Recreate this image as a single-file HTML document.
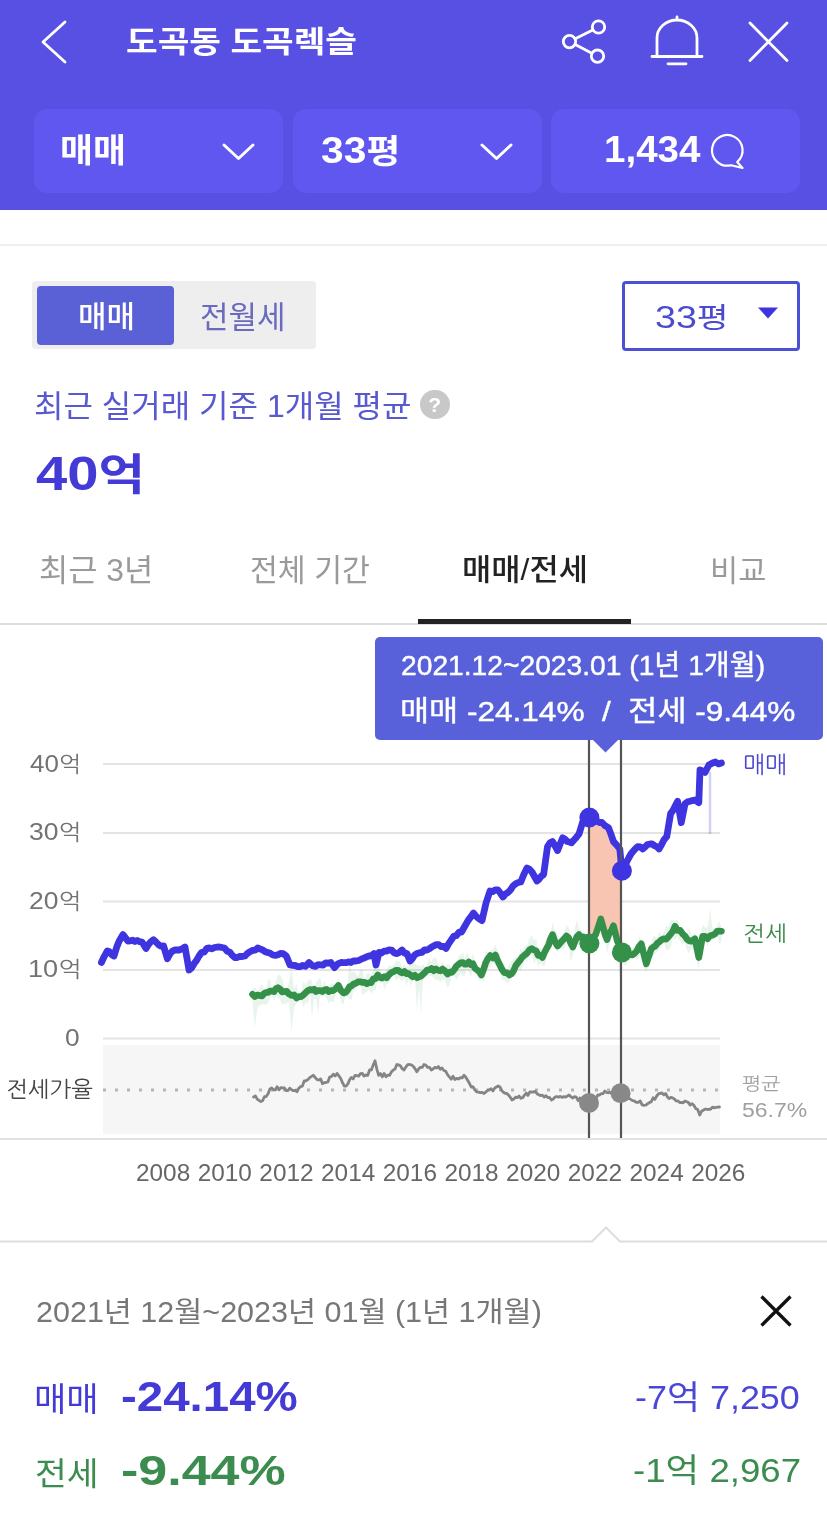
<!DOCTYPE html>
<html lang="ko">
<head>
<meta charset="utf-8">
<title>도곡동 도곡렉슬</title>
<style>
*{margin:0;padding:0;box-sizing:border-box}
html,body{width:827px;height:1521px;overflow:hidden;background:#fff}
body{position:relative;font-family:"Liberation Sans","Noto Sans CJK KR",sans-serif;color:#222}
#wrap{position:absolute;left:0;top:0;width:827px;height:1521px;filter:blur(0.6px)}
.abs{position:absolute}
.t{position:absolute;white-space:nowrap;line-height:1;transform-origin:0 0}
.hdr{left:-10px;top:-10px;width:847px;height:220px;background:#584fe3}
.btn{top:109px;height:84px;width:249px;border-radius:13px;background:#6056f0}
.w{color:#fff}
.cl{font-family:"Liberation Sans","NanumGothic","Noto Sans CJK KR",sans-serif}
</style>
</head>
<body>
<div id="wrap">
<div class="abs hdr"></div>
<div class="abs btn" style="left:34px"></div>
<div class="abs btn" style="left:293px"></div>
<div class="abs btn" style="left:551px"></div>


<!-- header icons -->
<svg class="abs" style="left:0;top:0" width="827" height="210" viewBox="0 0 827 210" fill="none" stroke="#fff" stroke-width="2.8" stroke-linecap="round" stroke-linejoin="round">
<path d="M65,22 L43,42 L65,62"/>
<circle cx="569.5" cy="41.6" r="6.2"/><circle cx="598.5" cy="27" r="6.2"/><circle cx="597.5" cy="56.2" r="6.2"/>
<path d="M575.2,38.8 L592.8,29.9 M575.2,44.5 L591.8,53.3"/>
<path d="M657,56 V38 a20,18 0 0 1 40,0 V56 M652,56.5 H702 M668,63.8 H686 M677,20 V17"/>
<path d="M750,23 L787,60.5 M787,23 L750,60.5"/>
<path d="M224,145 L238.5,158.5 L253,145" stroke-width="3"/>
<path d="M482,145 L496.5,158.5 L511,145" stroke-width="3"/>
<path d="M737.2,162 A15.3,15.3 0 1 0 731,165.2 L742.5,168 Z" stroke-width="2.2"/>
</svg>

<div class="abs" style="left:-10px;top:244px;width:847px;height:2px;background:#f0f0f0"></div>

<!-- toggle -->
<div class="abs" style="left:32px;top:281px;width:284px;height:68px;background:#eee;border-radius:4px"></div>
<div class="abs" style="left:37px;top:286px;width:137px;height:59px;background:#5a60d6;border-radius:4px"></div>

<!-- select -->
<div class="abs" style="left:622px;top:281px;width:178px;height:70px;border:3px solid #4b50d7;border-radius:4px"></div>
<svg class="abs" style="left:757px;top:307px" width="22" height="12" viewBox="0 0 22 12"><path d="M1,0.5 H21 L11,11.5Z" fill="#3d33e0"/></svg>

<div class="abs" style="left:420px;top:389.5px;width:29.5px;height:29.5px;border-radius:50%;background:#c8c8c8;color:#fff;font-size:21px;font-weight:700;text-align:center;line-height:30px">?</div>

<!-- tabs -->
<div class="abs" style="left:-10px;top:623px;width:847px;height:2px;background:#ddd"></div>
<div class="abs" style="left:418px;top:619px;width:213px;height:5px;background:#222"></div>

<!-- tooltip -->
<div class="abs" style="left:375px;top:637px;width:448px;height:103px;background:#5860da;border-radius:5px"></div>

<svg class="abs" style="left:0;top:0" width="827" height="1521" viewBox="0 0 827 1521">
<g stroke="#e4e4e4" stroke-width="2">
<line x1="103" x2="720" y1="764" y2="764"/><line x1="103" x2="720" y1="833" y2="833"/><line x1="103" x2="720" y1="901.5" y2="901.5"/><line x1="103" x2="720" y1="970" y2="970"/><line x1="103" x2="720" y1="1038.5" y2="1038.5"/>
</g>
<rect x="103" y="1045" width="617" height="89" fill="#f6f6f6"/>
<line x1="103" x2="726" y1="1090" y2="1090" stroke="#b5b5b5" stroke-width="3" stroke-dasharray="3 9"/>
<path d="M252.5,989.4 L254.9,987.1 L257.2,990.2 L259.6,987.8 L262.0,983.6 L264.0,990.7 L266.0,990.1 L268.0,979.9 L270.0,979.5 L272.0,987.8 L274.0,984.5 L276.0,982.1 L278.0,974.8 L280.0,975.1 L282.2,978.4 L284.5,987.1 L286.8,988.6 L289.0,982.4 L291.5,967.7 L294.0,988.9 L296.5,984.0 L298.8,994.2 L301.1,992.9 L303.4,981.4 L305.7,984.5 L308.0,981.1 L310.0,978.9 L312.0,981.7 L314.0,987.0 L316.0,982.0 L318.0,980.0 L320.1,977.1 L322.3,985.7 L324.4,980.7 L326.5,987.1 L328.7,987.0 L330.8,983.3 L333.3,984.6 L335.9,984.4 L338.4,978.0 L340.9,986.1 L343.5,987.7 L345.5,986.3 L347.5,985.1 L349.6,960.3 L351.6,973.3 L353.6,970.9 L355.8,973.3 L358.0,977.1 L360.2,970.0 L362.4,969.4 L364.6,980.1 L366.8,973.7 L369.0,973.5 L371.2,974.9 L373.4,970.3 L375.6,950.0 L377.8,962.6 L380.0,969.2 L382.2,976.1 L384.5,973.8 L386.7,969.8 L389.1,964.8 L391.6,966.6 L394.0,964.8 L396.1,961.0 L398.2,960.8 L400.2,961.4 L402.3,968.0 L404.4,964.3 L406.5,967.3 L408.6,965.9 L410.7,962.5 L412.8,958.3 L414.9,963.9 L417.0,965.2 L419.0,964.7 L421.0,967.3 L423.0,963.6 L425.0,969.8 L427.0,965.1 L429.2,958.7 L431.4,962.3 L433.6,957.0 L435.9,958.5 L438.1,962.6 L440.3,967.8 L442.5,961.7 L445.1,966.7 L447.6,963.7 L449.8,965.0 L451.9,967.8 L454.1,965.9 L456.3,962.5 L458.5,956.8 L460.6,955.0 L462.8,951.7 L464.8,959.5 L466.9,951.9 L468.9,957.7 L471.0,959.7 L473.0,953.1 L475.1,962.9 L477.2,967.9 L479.3,967.1 L481.4,966.5 L483.5,966.4 L485.7,949.4 L487.8,953.2 L490.3,950.4 L492.9,949.6 L495.4,944.4 L497.5,950.5 L499.6,954.6 L501.7,963.0 L504.3,962.9 L506.8,969.9 L509.4,964.1 L511.6,961.1 L513.7,959.3 L515.9,956.8 L518.1,959.3 L520.3,948.6 L522.4,949.9 L524.6,945.9 L527.1,944.9 L529.5,938.4 L532.0,935.2 L534.1,940.5 L536.2,938.4 L538.2,953.5 L540.3,946.9 L542.4,955.1 L544.4,944.0 L546.4,937.1 L548.5,940.5 L550.5,933.0 L552.5,922.3 L555.0,931.0 L557.6,933.7 L559.8,940.2 L562.0,937.2 L564.3,931.5 L566.5,924.9 L568.6,927.2 L570.7,933.9 L572.8,943.3 L574.9,928.3 L576.9,919.5 L579.0,927.7 L581.1,930.8 L583.2,933.8 L585.2,933.7 L587.3,937.3 L589.4,937.9 L591.5,931.2 L593.6,923.3 L595.7,930.6 L598.2,914.1 L600.8,895.7 L602.9,916.8 L604.9,921.7 L607.0,929.5 L609.2,922.7 L611.3,924.2 L613.5,917.9 L617.3,931.7 L619.6,941.9 L621.9,942.3 L624.0,942.4 L626.1,941.7 L628.3,951.1 L630.4,945.9 L632.5,950.1 L634.7,944.2 L636.9,946.3 L639.1,937.1 L641.3,939.7 L643.8,951.9 L646.3,960.8 L648.8,946.9 L651.3,942.6 L653.3,935.1 L655.3,937.5 L657.3,937.2 L659.3,931.1 L661.3,935.4 L663.8,931.5 L666.3,926.0 L668.8,927.0 L670.9,920.3 L672.9,919.8 L675.0,920.8 L677.5,919.8 L680.1,927.9 L682.6,927.7 L684.8,932.7 L687.0,935.4 L689.1,927.0 L691.3,935.6 L695.0,932.5 L698.8,945.0 L702.6,924.6 L705.1,927.7 L707.6,927.6 L710.1,908.8 L712.5,929.2 L715.0,928.1 L717.1,926.2 L719.3,921.0 L721.4,927.7 L721.4,942.4 L719.3,944.1 L717.1,933.9 L715.0,938.8 L712.5,937.9 L710.1,938.1 L707.6,946.4 L705.1,940.2 L702.6,938.4 L698.8,969.3 L695.0,951.0 L691.3,948.9 L689.1,953.2 L687.0,950.4 L684.8,941.5 L682.6,944.7 L680.1,941.3 L677.5,936.0 L675.0,939.5 L672.9,937.9 L670.9,946.6 L668.8,949.5 L666.3,949.9 L663.8,941.7 L661.3,946.2 L659.3,949.0 L657.3,951.2 L655.3,953.6 L653.3,956.2 L651.3,958.0 L648.8,966.0 L646.3,971.4 L643.8,967.8 L641.3,946.7 L639.1,957.8 L636.9,959.7 L634.7,955.3 L632.5,957.6 L630.4,958.0 L628.3,960.8 L626.1,965.3 L624.0,964.6 L621.9,955.6 L619.6,976.5 L617.3,951.5 L613.5,930.9 L611.3,937.6 L609.2,945.6 L607.0,952.8 L604.9,937.3 L602.9,939.5 L600.8,932.0 L598.2,931.3 L595.7,937.0 L593.6,956.7 L591.5,946.9 L589.4,948.5 L587.3,954.0 L585.2,943.3 L583.2,944.6 L581.1,939.8 L579.0,945.0 L576.9,944.7 L574.9,948.5 L572.8,954.5 L570.7,962.4 L568.6,944.2 L566.5,942.8 L564.3,948.4 L562.0,949.1 L559.8,946.0 L557.6,953.2 L555.0,948.0 L552.5,943.8 L550.5,951.3 L548.5,948.2 L546.4,958.1 L544.4,966.3 L542.4,965.5 L540.3,962.7 L538.2,966.7 L536.2,958.6 L534.1,963.8 L532.0,955.2 L529.5,952.2 L527.1,962.0 L524.6,958.8 L522.4,967.8 L520.3,970.7 L518.1,967.9 L515.9,976.6 L513.7,976.8 L511.6,976.1 L509.4,981.3 L506.8,983.3 L504.3,980.1 L501.7,979.6 L499.6,967.9 L497.5,969.8 L495.4,965.1 L492.9,961.4 L490.3,966.7 L487.8,968.8 L485.7,969.2 L483.5,982.4 L481.4,978.4 L479.3,980.7 L477.2,976.0 L475.1,974.7 L473.0,966.8 L471.0,977.2 L468.9,972.4 L466.9,969.1 L464.8,974.9 L462.8,976.0 L460.6,973.5 L458.5,976.4 L456.3,980.1 L454.1,976.3 L451.9,974.7 L449.8,984.2 L447.6,987.4 L445.1,980.1 L442.5,979.6 L440.3,981.9 L438.1,980.1 L435.9,979.9 L433.6,977.6 L431.4,975.5 L429.2,976.5 L427.0,974.2 L425.0,978.4 L423.0,977.5 L421.0,1014.7 L419.0,986.9 L417.0,1010.5 L414.9,977.7 L412.8,980.0 L410.7,986.7 L408.6,976.9 L406.5,986.5 L404.4,978.5 L402.3,981.4 L400.2,978.9 L398.2,977.5 L396.1,981.6 L394.0,974.4 L391.6,976.0 L389.1,983.6 L386.7,983.6 L384.5,990.3 L382.2,980.8 L380.0,984.6 L377.8,977.6 L375.6,990.3 L373.4,990.5 L371.2,994.0 L369.0,988.9 L366.8,992.0 L364.6,993.2 L362.4,995.2 L360.2,984.2 L358.0,984.7 L355.8,991.5 L353.6,988.7 L351.6,999.7 L349.6,999.6 L347.5,996.5 L345.5,996.0 L343.5,1004.7 L340.9,1002.0 L338.4,990.1 L335.9,994.5 L333.3,1002.6 L330.8,1000.9 L328.7,1003.3 L326.5,998.3 L324.4,995.5 L322.3,997.9 L320.1,995.6 L318.0,1012.7 L316.0,999.1 L314.0,998.6 L312.0,1017.7 L310.0,994.4 L308.0,1003.8 L305.7,1002.5 L303.4,1007.6 L301.1,999.3 L298.8,1001.0 L296.5,1003.7 L294.0,1007.4 L291.5,1031.5 L289.0,1000.9 L286.8,1003.7 L284.5,1003.6 L282.2,1004.8 L280.0,999.1 L278.0,997.9 L276.0,994.9 L274.0,1001.3 L272.0,994.6 L270.0,998.4 L268.0,1003.0 L266.0,1004.9 L264.0,1004.5 L262.0,1004.3 L259.6,1005.2 L257.2,1009.0 L254.9,1027.8 L252.5,1002.8Z" fill="#3a9a50" opacity="0.11"/>
<path d="M710,772 L710,834" stroke="#4a40e0" stroke-width="2.5" opacity="0.25"/>
<path d="M589.0,817.7 L589.4,817.5 L591.9,817.3 L594.4,820.5 L597.0,821.2 L599.5,822.5 L602.0,822.5 L605.2,825.8 L608.4,827.6 L611.0,834.3 L613.5,841.6 L616.6,845.0 L619.8,849.0 L621.0,861.5 L621.0,950.2 L619.6,945.7 L617.3,941.0 L613.5,925.7 L611.3,930.6 L609.2,933.5 L607.0,939.7 L604.9,933.9 L602.9,926.1 L600.8,919.0 L598.2,926.9 L595.7,934.6 L593.6,936.9 L591.5,940.7 L589.4,943.5 L589.0,943.2Z" fill="#f9c5b3"/>
<path d="M252.5,994.3 L254.9,996.6 L257.2,995.0 L259.6,995.5 L262.0,996.0 L264.0,993.4 L266.0,992.5 L268.0,992.4 L270.0,991.1 L272.0,991.0 L274.0,991.7 L276.0,988.7 L278.0,987.7 L280.0,989.0 L282.2,992.0 L284.5,991.6 L286.8,991.4 L289.0,994.0 L291.5,995.5 L294.0,994.9 L296.5,998.0 L298.8,996.6 L301.1,996.8 L303.4,994.9 L305.7,992.7 L308.0,990.5 L310.0,989.6 L312.0,990.0 L314.0,989.2 L316.0,991.5 L318.0,990.5 L320.1,990.6 L322.3,991.6 L324.4,989.9 L326.5,989.4 L328.7,991.7 L330.8,990.5 L333.3,990.6 L335.9,988.4 L338.4,985.4 L340.9,990.4 L343.5,993.0 L345.5,992.4 L347.5,990.3 L349.6,986.6 L351.6,985.9 L353.6,984.0 L355.8,983.3 L358.0,981.9 L360.2,981.7 L362.4,982.5 L364.6,982.2 L366.8,983.7 L369.0,982.8 L371.2,982.6 L373.4,978.7 L375.6,978.6 L377.8,975.0 L380.0,977.6 L382.2,978.1 L384.5,976.6 L386.7,977.8 L389.1,974.6 L391.6,972.5 L394.0,971.4 L396.1,970.2 L398.2,970.3 L400.2,971.9 L402.3,972.9 L404.4,971.4 L406.5,973.8 L408.6,973.5 L410.7,975.2 L412.8,976.8 L414.9,975.2 L417.0,977.8 L419.0,976.9 L421.0,976.2 L423.0,974.2 L425.0,972.5 L427.0,970.0 L429.2,969.8 L431.4,968.5 L433.6,970.7 L435.9,968.8 L438.1,970.4 L440.3,970.9 L442.5,969.0 L445.1,971.1 L447.6,974.0 L449.8,972.0 L451.9,972.4 L454.1,969.9 L456.3,966.2 L458.5,964.4 L460.6,962.8 L462.8,962.5 L464.8,964.3 L466.9,964.2 L468.9,961.9 L471.0,964.8 L473.0,963.8 L475.1,968.4 L477.2,970.0 L479.3,971.6 L481.4,975.0 L483.5,969.8 L485.7,962.7 L487.8,958.7 L490.3,955.6 L492.9,958.0 L495.4,955.0 L497.5,960.2 L499.6,964.4 L501.7,969.0 L504.3,972.6 L506.8,972.7 L509.4,975.0 L511.6,973.6 L513.7,970.5 L515.9,965.3 L518.1,962.6 L520.3,959.9 L522.4,956.9 L524.6,955.0 L527.1,953.2 L529.5,949.8 L532.0,948.6 L534.1,950.1 L536.2,950.8 L538.2,955.5 L540.3,955.2 L542.4,957.5 L544.4,952.8 L546.4,948.7 L548.5,945.3 L550.5,938.9 L552.5,934.6 L555.0,941.9 L557.6,946.0 L559.8,943.5 L562.0,941.1 L564.3,938.6 L566.5,936.0 L568.6,937.8 L570.7,943.1 L572.8,947.0 L574.9,941.7 L576.9,936.8 L579.0,934.6 L581.1,937.5 L583.2,936.9 L585.2,939.8 L587.3,942.6 L589.4,943.5 L591.5,940.7 L593.6,936.9 L595.7,934.6 L598.2,926.9 L600.8,919.0 L602.9,926.1 L604.9,933.9 L607.0,939.7 L609.2,933.5 L611.3,930.6 L613.5,925.7 L617.3,941.0 L619.6,945.7 L621.9,952.4 L624.0,952.1 L626.1,954.5 L628.3,954.0 L630.4,954.7 L632.5,955.0 L634.7,953.2 L636.9,951.0 L639.1,946.4 L641.3,943.8 L643.8,954.2 L646.3,963.8 L648.8,956.3 L651.3,948.8 L653.3,947.1 L655.3,946.0 L657.3,943.3 L659.3,941.9 L661.3,940.0 L663.8,938.7 L666.3,939.2 L668.8,936.3 L670.9,933.7 L672.9,931.1 L675.0,926.3 L677.5,930.5 L680.1,930.4 L682.6,933.8 L684.8,935.9 L687.0,939.2 L689.1,940.7 L691.3,941.3 L695.0,938.8 L698.8,957.6 L702.6,936.3 L705.1,936.2 L707.6,938.8 L710.1,935.7 L712.5,935.2 L715.0,933.8 L717.1,931.3 L719.3,931.1 L721.4,931.3" fill="none" stroke="#35914a" stroke-width="6.6" stroke-linejoin="round" stroke-linecap="round"/>
<path d="M101.4,962.5 L104.3,956.3 L107.3,951.0 L109.5,951.8 L111.8,954.7 L114.0,956.0 L116.6,947.4 L119.2,941.0 L123.0,934.6 L125.5,937.9 L128.0,941.0 L130.3,940.8 L132.7,940.2 L135.0,941.5 L137.3,940.5 L139.7,941.7 L142.0,942.0 L146.0,948.5 L148.5,944.4 L151.0,941.6 L153.5,939.7 L156.0,942.0 L158.5,944.7 L161.1,946.2 L163.6,946.0 L167.4,958.7 L169.9,953.9 L172.5,951.0 L175.8,949.8 L179.0,950.0 L182.0,948.8 L185.0,947.0 L189.0,970.0 L191.5,968.1 L194.0,963.8 L196.6,960.2 L199.1,955.9 L201.7,952.4 L204.2,952.2 L206.8,948.3 L209.3,948.0 L211.9,948.9 L214.4,947.5 L216.9,947.1 L219.5,947.0 L222.1,947.5 L224.6,948.0 L227.1,951.2 L229.6,951.9 L232.2,955.3 L234.7,957.5 L237.3,957.5 L239.8,956.4 L242.4,956.5 L245.0,956.0 L247.5,953.3 L250.0,951.7 L252.6,950.4 L255.1,950.1 L257.6,948.0 L260.1,949.0 L262.7,949.9 L265.2,951.7 L267.7,952.5 L270.3,953.3 L272.8,955.0 L275.4,955.4 L277.9,954.8 L280.4,953.3 L283.0,953.6 L286.3,956.0 L290.0,965.0 L292.6,965.4 L295.1,965.5 L297.7,966.6 L300.3,966.5 L302.8,965.5 L305.4,966.3 L309.0,962.5 L312.2,965.6 L315.5,966.3 L318.1,964.7 L320.6,964.8 L323.1,965.1 L325.7,962.9 L328.2,963.1 L330.8,962.5 L334.6,967.6 L337.8,963.9 L341.0,962.5 L343.5,962.7 L346.0,962.7 L348.5,961.9 L351.0,962.5 L353.5,960.8 L356.0,961.0 L358.6,960.5 L361.2,959.2 L363.8,958.2 L366.4,956.9 L369.0,956.0 L371.5,955.7 L374.0,953.6 L376.0,965.0 L379.0,952.4 L381.5,953.0 L384.0,951.1 L386.5,951.0 L389.0,950.0 L391.7,950.1 L394.3,952.9 L397.0,953.6 L399.5,952.2 L402.0,950.0 L404.5,953.1 L407.0,953.6 L410.0,961.0 L412.3,958.8 L414.6,955.0 L417.1,953.4 L419.6,952.7 L422.0,952.4 L424.5,949.8 L427.0,950.0 L429.3,948.8 L431.7,947.0 L434.0,945.8 L436.4,944.6 L438.7,944.7 L441.1,946.7 L443.6,946.3 L446.0,948.5 L448.7,943.7 L451.3,939.9 L454.0,936.0 L456.5,935.6 L459.0,932.2 L461.5,932.0 L464.8,926.2 L468.0,920.6 L470.8,916.9 L473.5,913.0 L476.3,916.5 L479.2,918.9 L482.0,920.6 L486.0,903.0 L490.0,891.0 L492.7,891.6 L495.3,889.8 L498.0,890.0 L500.5,893.3 L503.0,897.0 L505.5,893.9 L508.0,892.5 L510.5,889.9 L513.0,886.0 L515.6,883.8 L518.2,882.5 L520.8,882.0 L523.9,874.3 L527.0,868.0 L529.5,869.3 L532.0,872.0 L534.5,876.5 L537.0,881.0 L539.2,879.1 L541.4,876.1 L543.6,874.6 L547.5,846.6 L550.0,842.8 L552.5,841.6 L555.0,845.8 L557.6,850.5 L560.2,843.8 L562.7,837.8 L564.9,839.2 L567.2,841.5 L569.4,842.0 L571.6,842.8 L574.1,839.9 L576.5,837.2 L579.0,834.0 L583.0,821.0 L586.2,819.7 L589.4,817.5 L591.9,817.3 L594.4,820.5 L597.0,821.2 L599.5,822.5 L602.0,822.5 L605.2,825.8 L608.4,827.6 L611.0,834.3 L613.5,841.6 L616.6,845.0 L619.8,849.0 L621.9,870.8 L624.2,865.5 L626.4,862.6 L628.7,858.0 L630.9,854.0 L633.2,851.2 L635.4,848.7 L637.6,846.6 L640.2,846.9 L642.7,849.0 L645.1,846.9 L647.6,844.5 L650.0,844.0 L652.2,844.0 L654.5,845.6 L656.8,846.7 L659.0,849.0 L661.6,844.5 L664.2,839.4 L666.8,836.5 L670.6,813.6 L672.9,810.5 L675.3,805.7 L677.6,801.3 L681.3,822.6 L685.0,803.8 L687.5,801.9 L690.0,801.3 L692.5,800.6 L695.0,800.0 L698.8,802.6 L700.0,770.0 L702.5,770.9 L705.0,772.5 L708.9,765.0 L712.6,763.0 L715.5,762.0 L718.5,763.9 L721.4,763.0" fill="none" stroke="#3f35e0" stroke-width="6.8" stroke-linejoin="round" stroke-linecap="round"/>
<path d="M253.6,1097.0 L255.4,1095.9 L257.2,1099.2 L259.0,1100.4 L260.8,1101.6 L262.6,1100.7 L264.4,1096.7 L266.2,1096.5 L268.1,1093.8 L269.9,1089.0 L271.7,1088.0 L273.5,1089.6 L275.3,1090.0 L277.1,1086.8 L279.0,1089.9 L280.8,1087.6 L282.6,1087.9 L284.4,1088.0 L286.2,1090.6 L288.0,1090.5 L289.8,1088.2 L291.6,1089.8 L293.4,1090.7 L295.2,1090.5 L297.0,1091.7 L298.8,1088.2 L300.6,1086.6 L302.4,1086.1 L304.2,1081.0 L306.0,1080.8 L307.9,1079.6 L309.7,1077.6 L311.6,1076.4 L313.4,1075.3 L315.2,1077.5 L317.0,1079.6 L318.9,1080.0 L320.7,1079.0 L322.5,1083.8 L324.3,1082.6 L326.1,1082.5 L327.9,1082.0 L329.7,1077.0 L331.6,1076.4 L333.4,1074.2 L335.2,1076.0 L337.0,1073.5 L338.8,1075.7 L340.6,1078.3 L342.5,1082.7 L344.3,1086.2 L346.1,1086.1 L347.9,1083.9 L349.6,1079.7 L351.4,1077.5 L353.2,1078.9 L355.0,1075.3 L356.8,1075.6 L358.7,1076.1 L360.5,1073.6 L362.3,1073.4 L364.1,1076.1 L366.0,1075.0 L367.8,1075.3 L369.6,1069.9 L371.4,1069.9 L373.2,1065.0 L375.0,1060.8 L376.9,1069.3 L378.7,1075.3 L380.5,1073.6 L382.3,1076.8 L384.1,1073.5 L386.0,1076.8 L387.8,1075.1 L389.6,1075.3 L391.4,1071.9 L393.2,1070.1 L395.0,1069.0 L396.8,1064.5 L398.6,1064.9 L400.4,1065.7 L402.2,1068.7 L404.0,1070.0 L405.8,1067.1 L407.7,1064.7 L409.5,1064.5 L411.3,1064.9 L413.1,1066.2 L415.0,1068.6 L416.8,1071.7 L418.6,1069.1 L420.4,1067.3 L422.2,1067.4 L424.0,1064.5 L425.8,1065.0 L427.6,1067.3 L429.5,1067.3 L431.3,1070.0 L433.1,1069.0 L434.9,1067.3 L436.6,1068.0 L438.4,1066.6 L440.2,1069.3 L442.0,1068.0 L443.9,1070.5 L445.7,1071.2 L447.5,1074.6 L449.4,1077.0 L451.2,1079.2 L453.0,1076.1 L454.9,1079.5 L456.7,1078.3 L458.5,1079.0 L460.3,1077.7 L462.2,1077.9 L464.0,1075.3 L465.8,1077.3 L467.6,1080.2 L469.4,1083.3 L471.2,1087.0 L473.0,1086.7 L474.8,1089.8 L476.6,1091.9 L478.5,1092.1 L480.3,1092.6 L482.2,1092.4 L484.0,1093.5 L485.8,1092.1 L487.6,1090.2 L489.3,1089.8 L491.1,1088.8 L492.9,1090.9 L494.7,1088.1 L496.4,1087.0 L498.2,1086.0 L500.0,1087.0 L501.7,1090.3 L503.4,1092.3 L505.1,1093.3 L506.9,1093.5 L508.6,1095.2 L510.3,1097.3 L512.0,1100.0 L513.8,1099.1 L515.6,1097.1 L517.3,1097.6 L519.1,1096.1 L520.9,1098.3 L522.7,1097.6 L524.5,1095.1 L526.3,1093.1 L528.0,1095.4 L529.8,1091.9 L531.6,1092.0 L533.4,1092.1 L535.2,1091.4 L537.0,1093.7 L538.8,1094.8 L540.6,1095.6 L542.4,1095.1 L544.2,1097.1 L546.0,1095.7 L547.8,1097.6 L549.6,1097.5 L551.4,1100.0 L553.2,1099.1 L554.9,1097.1 L556.7,1096.5 L558.4,1097.2 L560.2,1096.4 L562.0,1097.4 L563.7,1096.6 L565.5,1097.1 L567.2,1096.2 L569.0,1095.0 L570.8,1096.6 L572.6,1098.0 L574.5,1096.7 L576.3,1097.2 L578.1,1100.7 L579.9,1097.9 L581.7,1101.0 L583.5,1101.4 L585.4,1099.6 L587.2,1103.7 L589.0,1103.0 L590.8,1103.3 L592.5,1100.9 L594.3,1100.0 L596.0,1099.0 L597.8,1094.8 L599.5,1095.1 L601.3,1093.7 L603.0,1093.7 L604.8,1091.0 L606.6,1092.5 L608.3,1092.9 L610.1,1092.1 L611.8,1093.7 L613.6,1093.0 L615.3,1093.3 L617.1,1091.7 L618.8,1091.1 L620.6,1093.3 L622.3,1092.7 L624.0,1094.6 L625.8,1094.5 L627.5,1098.6 L629.2,1098.4 L631.0,1099.6 L632.7,1100.6 L634.4,1101.0 L636.3,1102.4 L638.3,1102.3 L640.2,1100.9 L642.1,1104.9 L644.1,1105.4 L646.0,1105.0 L647.8,1103.7 L649.6,1102.5 L651.3,1101.7 L653.1,1097.8 L654.9,1099.3 L656.7,1096.0 L658.4,1093.9 L660.2,1093.3 L662.0,1093.0 L663.8,1094.9 L665.6,1093.5 L667.3,1096.7 L669.1,1098.6 L670.9,1097.4 L672.7,1097.8 L674.4,1099.1 L676.2,1100.9 L678.0,1101.0 L679.7,1102.6 L681.5,1102.4 L683.2,1102.9 L685.0,1101.0 L686.7,1101.7 L688.5,1102.6 L690.2,1105.1 L692.0,1103.7 L693.7,1105.0 L695.7,1108.6 L697.7,1109.6 L699.7,1115.0 L701.7,1111.2 L703.6,1110.0 L705.6,1109.0 L707.3,1109.5 L709.1,1109.3 L710.8,1109.0 L712.5,1107.1 L714.3,1107.8 L716.0,1107.4 L717.8,1107.1 L719.5,1107.0" fill="none" stroke="#858585" stroke-width="2.8" stroke-linejoin="round" stroke-linecap="round"/>
<g stroke="#555" stroke-width="2.2"><line x1="589" x2="589" y1="740" y2="1139"/><line x1="621" x2="621" y1="740" y2="1139"/></g>
<circle cx="589.4" cy="817.5" r="10" fill="#3f35e0"/><circle cx="621.9" cy="870.8" r="10" fill="#3f35e0"/>
<circle cx="589.4" cy="943.5" r="10" fill="#35914a"/><circle cx="621.9" cy="952.4" r="10" fill="#35914a"/>
<circle cx="589" cy="1103" r="10" fill="#888"/><circle cx="620.6" cy="1093.3" r="10" fill="#888"/>
<path d="M592,739 L619,739 L605.5,752.5Z" fill="#5860da"/>
</svg>
<div class="t" id="title" style="left:125.7px;top:27.0px;font-size:30.0px;font-weight:700;color:#fff;transform:scaleX(1.146);">도곡동 도곡렉슬</div>
<div class="t" id="b1" style="left:60.3px;top:134.0px;font-size:33.0px;font-weight:700;color:#fff;transform:scaleX(1.088);">매매</div>
<div class="t" id="b2" style="left:320.5px;top:131.7px;font-size:37.0px;font-weight:700;color:#fff;transform:scaleX(1.103);">33<span style="font-size:0.9em">평</span></div>
<div class="t" id="b3" style="left:604.0px;top:131.5px;font-size:36.5px;font-weight:700;color:#fff;transform:scaleX(1.056);">1,434</div>
<div class="t" id="tg1" style="left:78.0px;top:301.6px;font-size:30.1px;font-weight:500;color:#fff;transform:scaleX(1.030);">매매</div>
<div class="t" id="tg2" style="left:200.0px;top:301.6px;font-size:31.2px;font-weight:400;color:#6a6abf;transform:scaleX(0.995);">전월세</div>
<div class="t" id="sel" style="left:655.4px;top:301.5px;font-size:31.5px;font-weight:400;color:#4b4bd0;transform:scaleX(1.193);">33<span style="font-size:0.92em">평</span></div>
<div class="t" id="avg" style="left:33.6px;top:391.0px;font-size:31.0px;font-weight:400;color:#5858cf;transform:scaleX(1.033);">최근 실거래 기준 1개월 평균</div>
<div class="t" id="price" style="left:35.8px;top:450.3px;font-size:47.5px;font-weight:700;color:#443ad6;transform:scaleX(1.182);">40<span style="font-size:0.9em">억</span></div>
<div class="t" id="tab1" style="left:39.0px;top:555.0px;font-size:31.1px;font-weight:400;color:#9a9a9a;transform:scaleX(1.022);">최근 3년</div>
<div class="t" id="tab2" style="left:249.5px;top:555.0px;font-size:31.1px;font-weight:400;color:#9a9a9a;transform:scaleX(0.974);">전체 기간</div>
<div class="t" id="tab3" style="left:462.0px;top:555.0px;font-size:30.0px;font-weight:500;color:#222;transform:scaleX(1.061);">매매/전세</div>
<div class="t" id="tab4" style="left:710.0px;top:556.0px;font-size:30.0px;font-weight:400;color:#9a9a9a;transform:scaleX(1.020);">비교</div>
<div class="t" id="tt1" style="left:401.0px;top:650.6px;font-size:28.3px;font-weight:400;color:#fff;-webkit-text-stroke:0.45px #fff;transform:scaleX(0.997);">2021.12~2023.01 (1년 1개월)</div>
<div class="t" id="tt2" style="left:400.0px;top:697.0px;font-size:28.3px;font-weight:400;color:#fff;-webkit-text-stroke:0.45px #fff;transform:scaleX(1.116);">매매 -24.14%&nbsp; /&nbsp; 전세 -9.44%</div>
<div class="t cl" id="y40" style="left:30.0px;top:751.7px;font-size:24.3px;font-weight:400;color:#737373;transform:scaleX(1.067);">40<span style="font-size:0.92em">억</span></div>
<div class="t cl" id="y30" style="left:29.0px;top:820.4px;font-size:24.3px;font-weight:400;color:#737373;transform:scaleX(1.091);">30<span style="font-size:0.92em">억</span></div>
<div class="t cl" id="y20" style="left:29.0px;top:888.9px;font-size:24.3px;font-weight:400;color:#737373;transform:scaleX(1.091);">20<span style="font-size:0.92em">억</span></div>
<div class="t cl" id="y10" style="left:28.0px;top:957.4px;font-size:24.3px;font-weight:400;color:#737373;transform:scaleX(1.117);">10<span style="font-size:0.92em">억</span></div>
<div class="t cl" id="y0" style="left:65.0px;top:1026.0px;font-size:24.3px;font-weight:400;color:#737373;transform:scaleX(1.083);">0</div>
<div class="t cl" id="yr" style="left:6.0px;top:1079.0px;font-size:22.0px;font-weight:400;color:#444;transform:scaleX(1.050);">전세가율</div>
<div class="t cl" id="lm" style="left:743.4px;top:753.8px;font-size:23.5px;font-weight:400;color:#4a45d5;transform:scaleX(0.995);">매매</div>
<div class="t cl" id="lj" style="left:743.4px;top:923.6px;font-size:21.4px;font-weight:400;color:#3a8a4c;transform:scaleX(1.095);">전세</div>
<div class="t cl" id="la" style="left:742.0px;top:1074.5px;font-size:18.0px;font-weight:400;color:#a0a0a0;transform:scaleX(1.145);">평균</div>
<div class="t cl" id="lp" style="left:742.0px;top:1099.9px;font-size:20.5px;font-weight:400;color:#a0a0a0;transform:scaleX(1.123);">56.7%</div>
<div class="t cl" id="xs" style="left:135.5px;top:1161.4px;font-size:24.3px;font-weight:400;color:#666;word-spacing:0.7px;transform:scaleX(1.003);">2008 2010 2012 2014 2016 2018 2020 2022 2024 2026</div>
<div class="t" id="bp" style="left:36.0px;top:1298.2px;font-size:28.7px;font-weight:400;color:#777;transform:scaleX(1.063);">2021년 12월~2023년 01월 (1년 1개월)</div>
<div class="t" id="m1" style="left:34.0px;top:1383.4px;font-size:33.2px;font-weight:400;color:#443ad6;transform:scaleX(1.060);">매매</div>
<div class="t" id="m2" style="left:121.0px;top:1376.1px;font-size:42.0px;font-weight:700;color:#443ad6;transform:scaleX(1.130);">-24.14%</div>
<div class="t" id="m3" style="left:635.3px;top:1380.9px;font-size:33.5px;font-weight:400;color:#4b46d7;transform:scaleX(1.072);">-7억 7,250</div>
<div class="t" id="j1" style="left:35.0px;top:1457.5px;font-size:32.1px;font-weight:400;color:#3b8c4e;transform:scaleX(1.079);">전세</div>
<div class="t" id="j2" style="left:121.0px;top:1450.4px;font-size:42.0px;font-weight:700;color:#3b8c4e;transform:scaleX(1.237);">-9.44%</div>
<div class="t" id="j3" style="left:632.8px;top:1454.2px;font-size:33.5px;font-weight:400;color:#3b8c4e;transform:scaleX(1.093);">-1억 2,967</div>

<!-- chart labels -->
<div class="abs" style="left:-10px;top:1138px;width:847px;height:2px;background:#e2e2e2"></div>

<!-- bottom panel -->
<svg class="abs" style="left:-10px;top:1220px" width="847" height="30" viewBox="-10 0 847 30"><path d="M-10,21.5 H592 L606,7.5 L620,21.5 H837" fill="none" stroke="#ddd" stroke-width="2"/></svg>
<svg class="abs" style="left:755px;top:1290px" width="42" height="42" viewBox="0 0 42 42"><path d="M6.5,6.5 L35.5,35.5 M35.5,6.5 L6.5,35.5" stroke="#111" stroke-width="3.3" fill="none"/></svg>
</div>
</body>
</html>
